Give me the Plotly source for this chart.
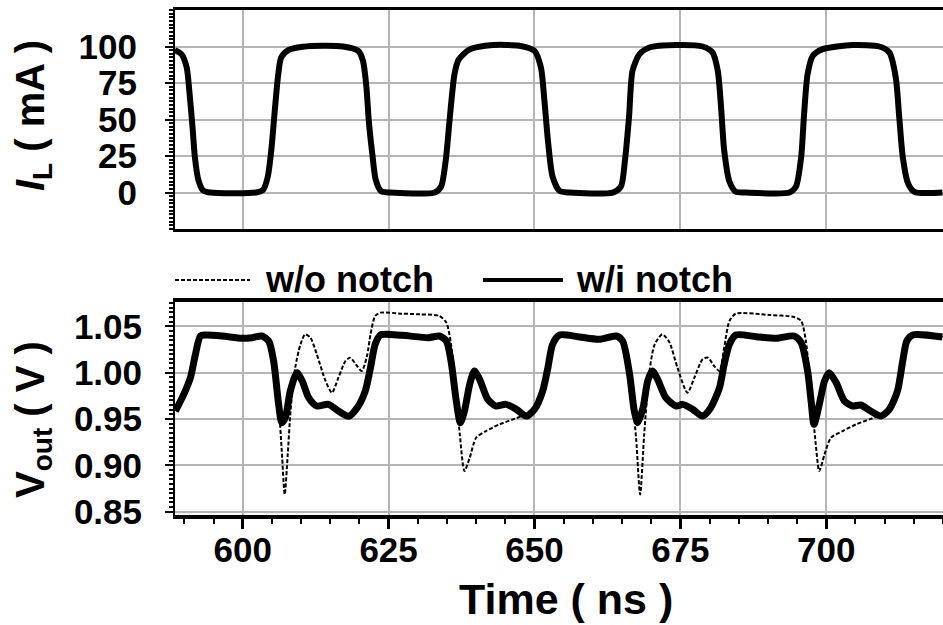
import plotly.graph_objects as go

# ---------------- data ----------------
# Top panel: load current I_L (mA) vs time (ns)
t_il = [588.36, 589.5, 590.4, 590.9, 591.4, 591.8, 592.4, 593.2, 594.4, 602.3,
        603.5, 604.3, 604.9, 605.5, 606.1, 606.6, 607.8, 610.3, 613.8, 617.2,
        619.8, 620.6, 621.2, 621.6, 622.2, 622.8, 623.7, 625.2, 632.9,
        634.0, 634.8, 635.5, 636.3, 637.0, 638.9, 642.9, 647.4, 650.0,
        651.1, 651.7, 652.3, 653.1, 654.3, 656.0, 663.4,
        664.8, 665.5, 666.2, 666.8, 668.0, 669.7, 674.3, 678.8, 680.5,
        681.4, 681.97, 682.5, 683.4, 684.5, 686.2, 693.7,
        694.8, 695.7, 696.2, 696.8, 697.7, 699.4, 704.5, 709.1, 710.8,
        711.9, 712.5, 713.1, 714.0, 715.1, 719.9]
il_ma = [97.5, 94.8, 85.7, 67.6, 44.9, 24.5, 8.6, 1.4, 0.0, 0.0,
         1.8, 10.9, 29.0, 56.2, 81.2, 92.5, 97.5, 99.8, 100.5, 100.0,
         97.0, 90.3, 72.1, 49.4, 26.8, 8.6, 0.9, 0.0, 0.0,
         4.1, 22.2, 51.7, 81.2, 91.0, 98.0, 101.0, 100.5, 97.0,
         85.7, 63.0, 35.8, 10.9, 1.1, 0.0, 0.0,
         4.0, 22.0, 51.7, 83.5, 94.8, 99.3, 101.0, 100.0, 96.0,
         83.5, 58.5, 29.0, 7.5, 0.5, 0.0, 0.0,
         4.0, 24.5, 54.0, 81.2, 93.7, 98.2, 101.0, 100.0, 96.0,
         79.0, 51.7, 24.5, 6.4, 0.5, 0.0]

# Bottom panel: output voltage with notch (solid)
t_wi = [588.47, 589.9, 591.04, 591.9, 592.75, 593.6, 596.46, 599.9, 601.6, 603.3,
        604.45, 605.3, 606.16, 606.7, 607.3, 608.16, 609.3, 610.2, 611.3, 612.7,
        614.7, 616.4, 618.15, 619.6, 621.0, 621.9, 622.7, 623.6, 627.3, 631.85,
        633.7, 634.9, 635.7, 636.6, 637.3, 638.0, 638.9, 639.7, 640.6, 642.0,
        643.4, 645.1, 646.9, 648.6, 650.0, 651.4, 652.3, 653.1, 654.3, 657.7,
        661.1, 664.0, 665.1, 666.3, 667.1, 667.7, 668.6, 669.4, 670.2, 671.1,
        672.5, 674.3, 675.4, 677.1, 678.8, 680.2, 681.7, 682.5, 683.4, 684.5,
        688.0, 691.4, 694.5, 695.7, 696.8, 697.4, 697.9, 698.8, 699.7, 700.5,
        701.7, 703.1, 704.5, 705.9, 707.6, 709.4, 710.8, 712.2, 713.1, 713.8,
        714.8, 719.9]
v_wi = [0.9586, 0.9766, 0.9946, 1.0198, 1.0396, 1.0407, 1.0396, 1.0371, 1.0378, 1.0396,
        1.0342, 1.0126, 0.9658, 0.9460, 0.9514, 0.9802, 1.0000, 0.9910, 0.9730, 0.9640,
        0.9658, 0.9586, 0.9530, 0.9620, 0.9802, 1.0054, 1.0306, 1.0407, 1.0403, 1.0378,
        1.0396, 1.0342, 1.0126, 0.9694, 0.9460, 0.9586, 0.9874, 1.0018, 0.9928, 0.9712,
        0.9640, 0.9658, 0.9604, 0.9532, 0.9604, 0.9802, 1.0054, 1.0306, 1.0407, 1.0385,
        1.0360, 1.0396, 1.0342, 0.9982, 0.9586, 0.9460, 0.9622, 0.9910, 1.0018, 0.9928,
        0.9730, 0.9640, 0.9658, 0.9604, 0.9532, 0.9622, 0.9838, 1.0090, 1.0306, 1.0407,
        1.0389, 1.0371, 1.0396, 1.0324, 1.0018, 0.9694, 0.9442, 0.9658, 0.9910, 1.0000,
        0.9892, 0.9694, 0.9640, 0.9651, 0.9586, 0.9532, 0.9604, 0.9802, 1.0126, 1.0342,
        1.0407, 1.0385]

# Bottom panel: output voltage without notch (dotted)
t_wo = [588.47, 589.9, 591.04, 591.9, 592.75, 593.6, 596.46, 599.9, 601.6, 603.3,
        604.45, 605.3, 606.2, 606.7, 607.2, 607.7, 608.2, 609.0, 609.9, 610.7,
        611.6, 612.7, 614.2, 615.3, 616.4, 617.6, 618.4, 619.6, 620.4, 621.3,
        621.9, 622.7, 623.6, 627.3, 630.3, 633.7, 634.9, 635.7, 636.6, 637.2,
        638.0, 638.9, 640.0, 641.7, 644.0, 646.3, 648.0, 648.6, 650.0, 651.4,
        652.3, 653.1, 654.3, 657.7, 661.1, 664.0, 665.1, 666.3, 667.4, 668.1,
        668.8, 669.7, 670.6, 671.9, 673.1, 674.5, 676.2, 677.4, 678.8, 679.7,
        680.8, 681.7, 682.5, 683.4, 684.5, 690.2, 694.5, 695.7, 696.5, 697.4,
        698.2, 698.8, 699.7, 700.8, 702.8, 705.1, 707.4, 709.1, 709.4, 710.8,
        712.2, 713.1, 713.8, 714.8, 719.9]
v_wo = [0.9586, 0.9766, 0.9946, 1.0198, 1.0396, 1.0407, 1.0396, 1.0371, 1.0378, 1.0396,
        1.0342, 1.0126, 0.9620, 0.9150, 0.8686, 0.9100, 0.9586, 1.0054, 1.0306, 1.0414,
        1.0378, 1.0198, 0.9910, 0.9784, 0.9946, 1.0126, 1.0162, 1.0072, 1.0018, 1.0180,
        1.0414, 1.0612, 1.0648, 1.0637, 1.0630, 1.0612, 1.0540, 1.0306, 0.9766, 0.9334,
        0.8938, 0.9082, 0.9298, 0.9370, 0.9442, 0.9496, 0.9532, 0.9532, 0.9604, 0.9802,
        1.0054, 1.0306, 1.0407, 1.0385, 1.0360, 1.0396, 1.0342, 0.9982, 0.9300, 0.8686,
        0.9334, 1.0018, 1.0306, 1.0414, 1.0330, 1.0054, 0.9784, 0.9946, 1.0144, 1.0162,
        1.0072, 1.0018, 1.0270, 1.0558, 1.0637, 1.0623, 1.0601, 1.0558, 1.0342, 0.9766,
        0.9226, 0.8938, 0.9118, 0.9298, 0.9370, 0.9442, 0.9496, 0.9532, 0.9532, 0.9604,
        0.9802, 1.0126, 1.0342, 1.0407, 1.0385]

time_ticks = [600, 625, 650, 675, 700]
il_ticks = [0, 25, 50, 75, 100]
v_ticks = [0.85, 0.90, 0.95, 1.00, 1.05]
v_ticktext = ["0.85", "0.90", "0.95", "1.00", "1.05"]
legend_names = ["w/o notch", "w/i notch"]

# ---------------- figure ----------------
FONT = "Liberation Sans, Arial, sans-serif"
GRID = "#b5b5b5"
tickfont = dict(family=FONT, size=35, color="black", weight="bold")

fig = go.Figure()
fig.add_trace(go.Scatter(x=t_il, y=il_ma, mode="lines", xaxis="x", yaxis="y",
                         line=dict(color="black", width=6, shape="spline", smoothing=0.7),
                         showlegend=False))
fig.add_trace(go.Scatter(x=t_wo, y=v_wo, mode="lines", xaxis="x2", yaxis="y2",
                         name=legend_names[0],
                         line=dict(color="black", width=2, dash="4px,2px",
                                   shape="spline", smoothing=0.7),
                         showlegend=False))
fig.add_trace(go.Scatter(x=t_wi, y=v_wi, mode="lines", xaxis="x2", yaxis="y2",
                         name=legend_names[1],
                         line=dict(color="black", width=7, shape="spline", smoothing=0.7),
                         showlegend=False))

xr = [588.4, 720.0]
common_x = dict(range=xr, tickmode="array", tickvals=time_ticks,
                showgrid=True, gridcolor=GRID, gridwidth=1.5, zeroline=False,
                showline=True, linecolor="black", mirror=True)

fig.update_layout(
    width=943, height=625,
    margin=dict(l=175, r=0, t=10, b=110),
    paper_bgcolor="white", plot_bgcolor="white",
    xaxis=dict(**common_x, linewidth=3, anchor="y", domain=[0, 1],
               showticklabels=False, ticks=""),
    yaxis=dict(domain=[0.5663, 1.0], range=[-25, 125], anchor="x",
               tickmode="array", tickvals=il_ticks, ticktext=[str(v) for v in il_ticks],
               ticks="outside", ticklen=8, tickwidth=2, tickcolor="black",
               minor=dict(dtick=2.5, tick0=0, ticks="outside", ticklen=4, tickwidth=1.5,
                          tickcolor="black", showgrid=False),
               showgrid=True, gridcolor=GRID, gridwidth=1.5, zeroline=False,
               showline=True, linecolor="black", linewidth=2,
               tickfont=tickfont, ticklabelstandoff=21),
    xaxis2=dict(**common_x, linewidth=4, anchor="y2", domain=[0, 1],
                ticktext=[str(v) for v in time_ticks],
                ticks="outside", ticklen=10, tickwidth=3, tickcolor="black",
                minor=dict(dtick=5, tick0=600, ticks="outside", ticklen=5, tickwidth=2,
                           tickcolor="black", showgrid=False),
                tickfont=tickfont, ticklabelstandoff=-9),
    yaxis2=dict(domain=[0, 0.4218], range=[0.8464, 1.0763], anchor="x2",
                tickmode="array", tickvals=v_ticks, ticktext=v_ticktext,
                ticks="outside", ticklen=8, tickwidth=2, tickcolor="black",
                minor=dict(dtick=0.005, tick0=0.85, ticks="outside", ticklen=4, tickwidth=1.5,
                           tickcolor="black", showgrid=False),
                showgrid=True, gridcolor=GRID, gridwidth=1.5, zeroline=False,
                showline=True, linecolor="black", linewidth=2,
                tickfont=tickfont, ticklabelstandoff=16),
)

def px(x):
    return (x - 175) / 768.0

def py(y):
    return (515 - y) / 505.0

ann_font = dict(family=FONT, color="black", weight="bold")
fig.add_annotation(text="<i>I</i><sub>L</sub> ( mA )", xref="paper", yref="paper",
                   x=px(33), y=py(116), textangle=-90, showarrow=False,
                   xanchor="center", yanchor="middle", font=dict(**ann_font, size=40))
fig.add_annotation(text="V<sub>out</sub> ( V )", xref="paper", yref="paper",
                   x=px(33), y=py(420), textangle=-90, showarrow=False,
                   xanchor="center", yanchor="middle", font=dict(**ann_font, size=40))
fig.add_annotation(text="Time ( ns )", xref="paper", yref="paper",
                   x=px(566), y=py(599), showarrow=False,
                   xanchor="center", yanchor="middle", font=dict(**ann_font, size=43))

# legend (drawn manually: long line samples)
fig.add_shape(type="line", xref="paper", yref="paper", x0=px(175), x1=px(250),
              y0=py(280), y1=py(280), line=dict(color="black", width=2, dash="4px,2px"))
fig.add_annotation(text=legend_names[0], xref="paper", yref="paper",
                   x=px(263), y=py(279), showarrow=False, xanchor="left", yanchor="middle",
                   font=dict(**ann_font, size=36))
fig.add_shape(type="line", xref="paper", yref="paper", x0=px(483), x1=px(563),
              y0=py(280), y1=py(280), line=dict(color="black", width=4))
fig.add_annotation(text=legend_names[1], xref="paper", yref="paper",
                   x=px(574), y=py(279), showarrow=False, xanchor="left", yanchor="middle",
                   font=dict(**ann_font, size=36))

fig.write_html("out.html")
